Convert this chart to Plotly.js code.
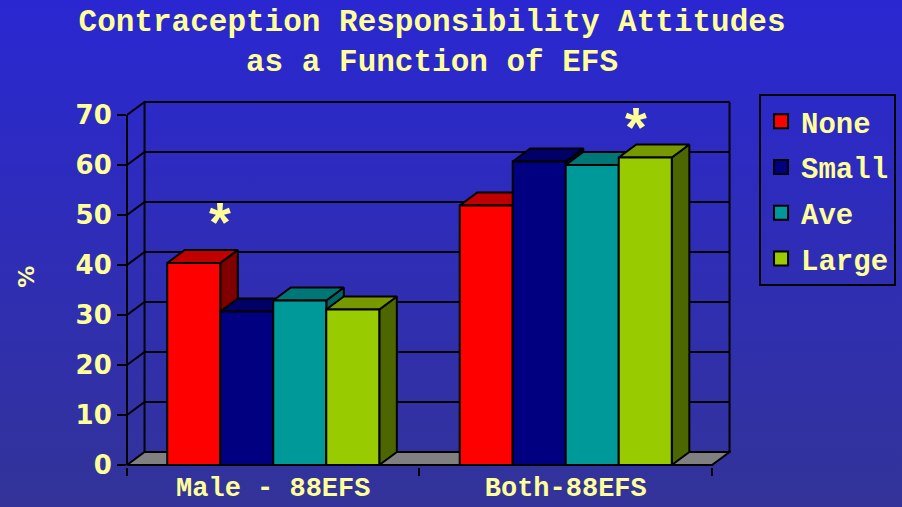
<!DOCTYPE html>
<html><head><meta charset="utf-8">
<script src="https://cdn.plot.ly/plotly-3.0.1.min.js"></script>
<style>
html,body{margin:0;padding:0;width:902px;height:507px;overflow:hidden;background:linear-gradient(#2A27D2,#333399);}
#chart{width:902px;height:507px;}
</style>
</head><body><div id="chart"></div>
<script>
// ---- data ----
const categories = ['Male - 88EFS', 'Both-88EFS'];
const seriesNames = ['None', 'Small', 'Ave', 'Large'];
const noneVals  = [40.4, 51.9];
const smallVals = [30.7, 60.7];
const aveVals   = [32.9, 60.0];
const largeVals = [31.1, 61.5];
const yTicks = [0, 10, 20, 30, 40, 50, 60, 70];

// ---- styles ----
const frontColors = ['#FF0000', '#000080', '#009999', '#99CC00'];
const topColors   = ['#C00000', '#000066', '#007777', '#779900'];
const sideColors  = ['#800000', '#00004D', '#006666', '#4C6600'];
const YEL = '#FFFF99';
const W = 0.18125;   // bar width (category units)
const DX = 0.06, DY = 2.6; // 3-D depth offset

const series = [noneVals, smallVals, aveVals, largeVals];
const traces = [];
const edge = {color: '#000', width: 2};
categories.forEach((cat, g) => {
  series.forEach((vals, i) => {
    const v = vals[g];
    const x0 = g - 2 * W + i * W, x1 = x0 + W;
    traces.push({type: 'scatter', mode: 'lines', fill: 'toself', fillcolor: sideColors[i], line: edge,
      x: [x1, x1, x1 + DX, x1 + DX, x1], y: [0, v, v + DY, DY, 0], showlegend: false, hoverinfo: 'skip'});
    traces.push({type: 'scatter', mode: 'lines', fill: 'toself', fillcolor: topColors[i], line: edge,
      x: [x0, x1, x1 + DX, x0 + DX, x0], y: [v, v, v + DY, v + DY, v], showlegend: false, hoverinfo: 'skip'});
    traces.push({type: 'scatter', mode: 'lines', fill: 'toself', fillcolor: frontColors[i], line: edge,
      x: [x0, x1, x1, x0, x0], y: [0, 0, v, v, 0], showlegend: false, name: seriesNames[i],
      hovertemplate: cat + '<br>' + seriesNames[i] + ': ' + v + '%<extra></extra>'});
  });
});
// legend entries
seriesNames.forEach((n, i) => {
  traces.push({type: 'scatter', mode: 'markers', x: [null], y: [null], name: n, legendgroup: n,
    marker: {symbol: 'square', size: 14, color: frontColors[i], line: {color: '#000', width: 2}}});
});

// back walls, gridlines, floor
const xL = -0.5, xR = categories.length - 0.5;
const shapes = [];
shapes.push({type: 'path', layer: 'below', xref: 'x', yref: 'y',
  path: `M${xL},0 L${xR},0 L${xR + DX},${DY} L${xL + DX},${DY} Z`, fillcolor: '#808080', line: edge});
yTicks.slice(1).forEach(t => {
  shapes.push({type: 'path', layer: 'below', xref: 'x', yref: 'y',
    path: `M${xL},${t} L${xL + DX},${t + DY} L${xR + DX},${t + DY}`, line: edge});
});
const yTop = yTicks[yTicks.length - 1];
shapes.push({type: 'line', layer: 'below', xref: 'x', yref: 'y', x0: xL + DX, x1: xL + DX, y0: DY, y1: yTop + DY, line: edge});
shapes.push({type: 'line', layer: 'below', xref: 'x', yref: 'y', x0: xR + DX, x1: xR + DX, y0: DY, y1: yTop + DY, line: edge});
// front value axis line
shapes.push({type: 'line', layer: 'above', xref: 'paper', yref: 'y', x0: 0, x1: 0, y0: 0, y1: yTop, line: edge});

const layout = {
  width: 902, height: 507,
  paper_bgcolor: 'rgba(0,0,0,0)', plot_bgcolor: 'rgba(0,0,0,0)',
  margin: {l: 127, r: 171, t: 100, b: 40},
  title: {text: 'Contraception Responsibility Attitudes<br>as a Function of EFS',
    font: {family: 'Liberation Mono', size: 31, color: YEL, weight: 'bold'},
    x: 0.479, xanchor: 'center', xref: 'container', y: 0.939, yanchor: 'top', yref: 'container'},
  xaxis: {range: [xL, xR + DX + 0.005], tickvals: [0, 1], ticktext: categories, ticks: '',
    showgrid: false, zeroline: false, showline: false, fixedrange: true, ticklabelstandoff: 1,
    tickfont: {family: 'Liberation Mono', size: 27, color: YEL, weight: 'bold'},
    minor: {tickvals: [-0.5, 0.5, 1.5], ticks: 'outside', ticklen: 8, tickwidth: 2, tickcolor: '#000', showgrid: false}},
  yaxis: {range: [-0.4, 73], tickvals: yTicks, ticks: 'outside', ticklen: 9, tickwidth: 2, tickcolor: '#000',
    showgrid: false, zeroline: false, showline: false, fixedrange: true,
    tickfont: {family: 'DejaVu Sans', size: 26, color: YEL, weight: 'bold'}},
  showlegend: true,
  legend: {xref: 'container', yref: 'container', x: 0.8415, y: 0.8146, xanchor: 'left', yanchor: 'top',
    bgcolor: 'rgba(0,0,0,0)', bordercolor: '#000', borderwidth: 2, traceorder: 'grouped', tracegroupgap: 5,
    font: {family: 'Liberation Mono', size: 29, color: YEL, weight: 'bold'}},
  shapes: shapes,
  annotations: [
    {text: '%', xref: 'paper', yref: 'paper', x: -0.19, y: 0.518, textangle: -90, showarrow: false,
      font: {family: 'DejaVu Sans', size: 22, color: YEL, weight: 'bold'}},
    {text: '*', xref: 'x', yref: 'y', x: -0.181, y: 48.8, showarrow: false,
      font: {family: 'Liberation Sans', size: 56, color: YEL, weight: 'bold'}},
    {text: '*', xref: 'x', yref: 'y', x: 1.24, y: 67.8, showarrow: false,
      font: {family: 'Liberation Sans', size: 56, color: YEL, weight: 'bold'}}
  ]
};
Plotly.newPlot('chart', traces, layout, {displayModeBar: false, staticPlot: true});
</script>
</body></html>
